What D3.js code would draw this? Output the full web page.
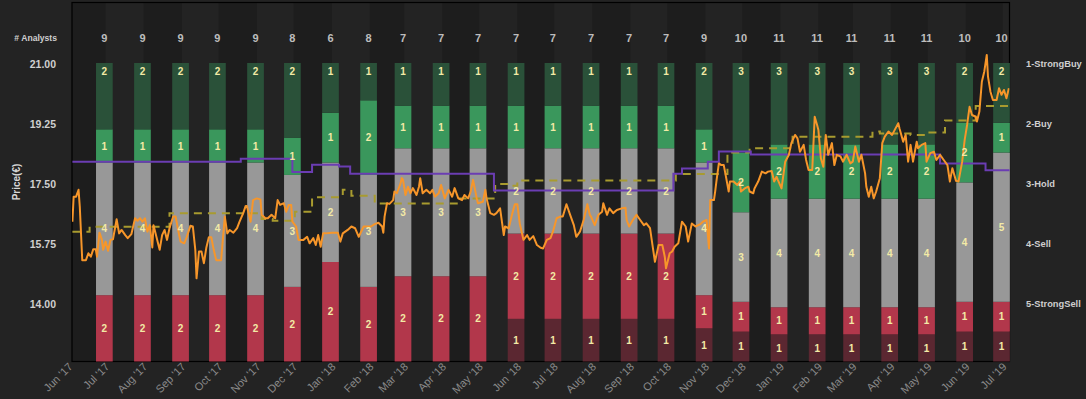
<!DOCTYPE html>
<html><head><meta charset="utf-8">
<script src="https://cdn.jsdelivr.net/npm/d3@7"></script>
<style>
html,body{margin:0;padding:0;background:#232323;}
svg{display:block;}
</style></head><body>
<svg id="chart" width="1086" height="399"></svg>
<script>
// ---------------- DATA ----------------
const barDates = ["2017-06-30","2017-07-31","2017-08-31","2017-09-30","2017-10-31","2017-11-30",
  "2017-12-31","2018-01-31","2018-02-28","2018-03-31","2018-04-30","2018-05-31","2018-06-30",
  "2018-07-31","2018-08-31","2018-09-30","2018-10-31","2018-11-30","2018-12-31","2019-01-31",
  "2019-02-28","2019-03-31","2019-04-30","2019-05-31","2019-06-30"];
const strongBuy  = [2,2,2,2,2,2, 1,1,1,1,1,1,1,1,1,1, 2,3, 3,3,3,3,3, 2,2];
const buy        = [1,1,1,1,1,1, 1,2,1,1,1,1,1,1,1,1, 1,2, 2,2,2,2,2, 2,1];
const hold       = [4,4,4,4,4,3, 2,3,3,3,3,2,2,2,2,2, 4,3, 4,4,4,4,4, 4,5];
const sell       = [2,2,2,2,2,2, 2,2,2,2,2,2,2,2,2,2, 1,1, 1,1,1,1,1, 1,1];
const strongSell = [0,0,0,0,0,0, 0,0,0,0,0,1,1,1,1,1, 1,1, 1,1,1,1,1, 1,1];

const priceTicks = [14.00, 15.75, 17.50, 19.25, 21.00];
const ratingTicks = [1, 2, 3, 4, 5];
const ratingLabels = ["1-StrongBuy","2-Buy","3-Hold","4-Sell","5-StrongSell"];

// consensus rating (step line, rating axis)
const consensusDates  = ["2017-06-04","2017-10-19","2017-11-30","2017-12-16","2018-01-07","2018-01-16",
  "2018-05-13","2018-10-06","2018-10-13","2018-11-03","2018-11-12","2018-12-08","2019-05-11","2019-06-17","2019-07-07"];
const consensusValues = [2.63,2.58,2.80,2.68,2.71,2.83,3.11,2.83,2.74,2.63,2.46,2.51,2.66,2.77,2.77];

// average target price (dashed step line, price axis)
const targetDates  = ["2017-06-04","2017-06-18","2017-08-22","2017-11-05","2017-11-14","2017-12-02","2017-12-16",
  "2018-01-10","2018-01-17","2018-02-05","2018-04-15","2018-05-14","2018-05-26","2018-06-01","2018-10-08",
  "2018-11-19","2018-12-07","2019-01-11","2019-03-17","2019-03-23","2019-04-17","2019-04-30","2019-05-15",
  "2019-06-09","2019-07-07"];
const targetValues = [16.11,16.25,16.65,16.48,16.43,16.69,17.11,17.33,17.16,16.93,17.08,17.50,17.45,17.60,17.79,
  18.42,18.54,18.88,19.03,18.97,18.93,19.00,19.35,19.77,19.77];

// share price
const price = [
["2017-06-04",16.40],["2017-06-05",17.13],["2017-06-07",17.13],["2017-06-09",17.33],["2017-06-10",16.84],
["2017-06-12",15.28],["2017-06-15",15.28],["2017-06-17",15.48],["2017-06-19",15.38],["2017-06-21",15.60],
["2017-06-23",15.60],["2017-06-24",15.38],["2017-06-26",16.08],["2017-06-28",15.87],["2017-06-29",15.58],
["2017-07-01",15.82],["2017-07-03",15.55],["2017-07-05",15.87],["2017-07-07",15.89],["2017-07-10",16.47],
["2017-07-12",16.06],["2017-07-14",16.16],["2017-07-17",16.01],["2017-07-19",15.92],["2017-07-22",16.04],
["2017-07-25",16.50],["2017-07-27",16.43],["2017-07-29",16.50],["2017-07-31",16.40],["2017-08-02",16.50],
["2017-08-04",16.11],["2017-08-06",16.30],["2017-08-08",15.65],["2017-08-09",16.30],["2017-08-12",15.87],
["2017-08-14",15.58],["2017-08-16",16.01],["2017-08-18",16.16],["2017-08-20",15.87],["2017-08-22",16.21],
["2017-08-25",16.55],["2017-08-27",16.55],["2017-08-29",16.16],["2017-08-31",15.82],["2017-09-03",15.77],
["2017-09-05",15.95],["2017-09-08",16.28],["2017-09-10",16.26],["2017-09-12",15.58],["2017-09-13",14.75],
["2017-09-15",15.53],["2017-09-17",15.53],["2017-09-19",15.19],["2017-09-21",15.65],["2017-09-23",15.95],
["2017-09-25",15.95],["2017-09-27",15.58],["2017-09-29",15.28],["2017-10-03",15.28],["2017-10-06",16.55],
["2017-10-08",16.06],["2017-10-10",16.16],["2017-10-13",16.08],["2017-10-16",16.21],["2017-10-18",16.40],
["2017-10-21",16.65],["2017-10-23",16.86],["2017-10-24",16.86],["2017-10-27",16.40],["2017-10-29",17.03],
["2017-11-01",17.08],["2017-11-04",17.05],["2017-11-05",16.60],["2017-11-08",16.50],["2017-11-10",16.50],
["2017-11-13",16.60],["2017-11-16",16.50],["2017-11-18",17.03],["2017-11-20",16.89],["2017-11-23",16.94],
["2017-11-25",16.69],["2017-11-27",16.89],["2017-11-29",16.89],["2017-11-30",16.40],["2017-12-03",16.26],
["2017-12-05",15.87],["2017-12-09",15.87],["2017-12-12",15.96],["2017-12-14",15.77],["2017-12-17",15.92],
["2017-12-19",15.72],["2017-12-21",16.01],["2017-12-23",15.67],["2017-12-25",16.06],["2017-12-27",16.06],
["2018-01-01",16.08],["2018-01-06",16.08],["2018-01-08",15.82],["2018-01-10",16.06],["2018-01-14",16.16],
["2018-01-17",16.26],["2018-01-20",16.21],["2018-01-23",15.96],["2018-01-27",16.26],["2018-01-31",16.26],
["2018-02-02",16.26],["2018-02-05",16.33],["2018-02-08",16.37],["2018-02-11",16.26],["2018-02-12",16.08],
["2018-02-13",16.55],["2018-02-15",16.94],["2018-02-17",16.92],["2018-02-20",17.03],["2018-02-21",17.28],
["2018-02-23",17.23],["2018-02-26",17.52],["2018-02-27",17.67],["2018-02-28",17.62],["2018-03-02",17.18],
["2018-03-04",17.42],["2018-03-06",17.23],["2018-03-08",17.38],["2018-03-11",17.18],["2018-03-13",17.42],
["2018-03-14",17.67],["2018-03-16",17.23],["2018-03-19",17.33],["2018-03-22",17.23],["2018-03-24",17.33],
["2018-03-26",17.13],["2018-03-29",17.23],["2018-03-31",17.47],["2018-04-03",17.08],["2018-04-06",17.33],
["2018-04-09",17.13],["2018-04-11",17.38],["2018-04-14",17.08],["2018-04-17",17.03],["2018-04-19",17.18],
["2018-04-22",17.08],["2018-04-24",17.27],["2018-04-26",17.62],["2018-04-29",17.08],["2018-04-30",16.94],
["2018-05-04",16.98],["2018-05-06",17.33],["2018-05-07",17.08],["2018-05-10",16.65],["2018-05-13",16.60],
["2018-05-15",16.65],["2018-05-18",16.79],["2018-05-21",16.01],["2018-05-22",16.26],["2018-05-25",16.21],
["2018-05-28",16.65],["2018-05-30",16.91],["2018-06-01",16.91],["2018-06-03",16.35],["2018-06-06",15.87],
["2018-06-09",16.01],["2018-06-11",15.87],["2018-06-14",15.98],["2018-06-17",15.72],["2018-06-20",15.64],
["2018-06-22",15.62],["2018-06-25",15.87],["2018-06-28",15.92],["2018-06-30",16.11],["2018-07-03",16.50],
["2018-07-06",16.55],["2018-07-08",16.55],["2018-07-11",16.91],["2018-07-14",16.60],["2018-07-17",16.30],
["2018-07-19",15.96],["2018-07-22",16.11],["2018-07-25",16.45],["2018-07-28",16.91],["2018-07-30",16.60],
["2018-07-31",16.55],["2018-08-03",16.30],["2018-08-06",16.60],["2018-08-09",16.69],["2018-08-10",16.94],
["2018-08-13",16.60],["2018-08-15",16.79],["2018-08-18",16.65],["2018-08-21",16.74],["2018-08-25",16.79],
["2018-08-28",16.81],["2018-08-29",16.45],["2018-08-31",16.26],["2018-09-03",16.45],["2018-09-06",16.60],
["2018-09-09",16.45],["2018-09-12",16.30],["2018-09-14",16.35],["2018-09-17",16.21],["2018-09-19",15.72],
["2018-09-21",15.23],["2018-09-24",15.72],["2018-09-27",15.72],["2018-09-29",15.38],["2018-09-30",15.04],
["2018-10-03",15.48],["2018-10-05",15.53],["2018-10-07",15.67],["2018-10-10",15.77],["2018-10-13",16.40],
["2018-10-16",16.26],["2018-10-18",15.82],["2018-10-21",16.35],["2018-10-24",16.26],["2018-10-28",16.33],
["2018-10-30",16.40],["2018-11-02",16.45],["2018-11-04",15.62],["2018-11-05",17.03],["2018-11-08",17.03],
["2018-11-09",17.28],["2018-11-10",17.57],["2018-11-12",18.10],["2018-11-14",18.05],["2018-11-16",18.05],
["2018-11-18",17.67],["2018-11-20",17.28],["2018-11-21",17.57],["2018-11-24",17.57],["2018-11-27",17.47],
["2018-11-29",17.57],["2018-11-30",17.28],["2018-12-03",17.37],["2018-12-06",17.42],["2018-12-07",17.28],
["2018-12-10",17.23],["2018-12-11",17.37],["2018-12-14",17.57],["2018-12-17",17.86],["2018-12-20",17.81],
["2018-12-22",17.86],["2018-12-25",17.88],["2018-12-27",17.57],["2018-12-29",17.71],["2018-12-30",17.62],
["2019-01-02",17.37],["2019-01-05",18.15],["2019-01-08",18.35],["2019-01-10",18.69],["2019-01-13",18.93],
["2019-01-15",18.83],["2019-01-17",18.44],["2019-01-20",18.64],["2019-01-22",18.20],["2019-01-24",17.91],
["2019-01-27",17.91],["2019-01-29",19.46],["2019-01-31",19.21],["2019-02-01",19.07],["2019-02-03",18.25],
["2019-02-05",18.00],["2019-02-07",18.93],["2019-02-09",18.35],["2019-02-12",18.69],["2019-02-14",18.05],
["2019-02-16",18.35],["2019-02-19",18.30],["2019-02-21",18.15],["2019-02-24",18.35],["2019-02-27",18.10],
["2019-03-01",18.15],["2019-03-03",18.59],["2019-03-06",18.15],["2019-03-08",18.35],["2019-03-11",17.81],
["2019-03-12",17.42],["2019-03-14",17.13],["2019-03-16",17.42],["2019-03-18",17.08],["2019-03-20",17.28],
["2019-03-23",17.67],["2019-03-25",18.69],["2019-03-27",18.88],["2019-03-30",19.03],["2019-04-02",18.93],
["2019-04-04",19.07],["2019-04-07",19.27],["2019-04-08",19.12],["2019-04-11",18.73],["2019-04-13",18.93],
["2019-04-15",18.15],["2019-04-17",18.64],["2019-04-19",18.15],["2019-04-22",18.73],["2019-04-23",18.54],
["2019-04-26",18.64],["2019-04-29",18.69],["2019-04-30",18.15],["2019-05-03",18.40],["2019-05-06",18.44],
["2019-05-08",18.20],["2019-05-11",18.35],["2019-05-14",18.20],["2019-05-17",18.05],["2019-05-19",17.57],
["2019-05-21",17.96],["2019-05-24",17.59],["2019-05-26",17.57],["2019-05-29",18.15],["2019-05-31",18.78],
["2019-06-02",19.22],["2019-06-04",19.75],["2019-06-06",19.51],["2019-06-09",19.46],["2019-06-10",19.32],
["2019-06-12",19.61],["2019-06-14",20.48],["2019-06-16",20.78],["2019-06-18",21.26],["2019-06-19",20.63],
["2019-06-21",20.19],["2019-06-23",19.95],["2019-06-26",19.95],["2019-06-28",20.29],["2019-06-30",20.10],
["2019-07-02",20.24],["2019-07-04",20.00],["2019-07-06",20.29]
];

// ---------------- CHART ----------------
const parse = d3.utcParse("%Y-%m-%d");
const svg = d3.select("#chart");
const FONT = "'Liberation Sans', Arial, sans-serif";
const L = 72, T = 2.5, R = 1009.5, B = 361.5;

const x = d3.scaleUtc()
  .domain([new Date(Date.UTC(2017,5,3,16)), new Date(Date.UTC(2019,6,6,12))])
  .range([L, R]);
const yPrice = d3.scaleLinear().domain([12.325, 22.79]).range([B, T]);
const yRating = d3.scaleLinear().domain([1, 5]).range([64, 304]);
const yPct = d3.scaleLinear().domain([0, 1]).range([B, 63]);

svg.append("rect").attr("width",1086).attr("height",399).attr("fill","#232323");

svg.append("defs").append("clipPath").attr("id","plotclip")
  .append("rect").attr("x",L).attr("y",T).attr("width",R-L).attr("height",B-T);

// alternating month bands
const months = d3.utcMonth.range(new Date(Date.UTC(2017,5,1)), new Date(Date.UTC(2019,7,1)));
const bandG = svg.append("g").attr("clip-path","url(#plotclip)");
bandG.append("rect").attr("x",L).attr("y",T).attr("width",R-L).attr("height",B-T).attr("fill","#1d1d1d");
bandG.selectAll("rect.band").data(months.filter((m,i)=>i%2===1)).join("rect")
  .attr("class","band")
  .attr("x", d => x(d))
  .attr("y", T)
  .attr("width", d => x(d3.utcMonth.offset(d,1)) - x(d))
  .attr("height", B - T)
  .attr("fill", "#232323");

// plot border
svg.append("rect").attr("x",L).attr("y",T).attr("width",R-L).attr("height",B-T)
  .attr("fill","none").attr("stroke","#000").attr("stroke-width",1.2);

// stacked (expanded) bars
const keys = ["strongSell","sell","hold","buy","strongBuy"];
const colors = {strongSell:"#5b2731", sell:"#b2374b", hold:"#989898", buy:"#3a975c", strongBuy:"#2a5139"};
const rows = barDates.map((d,i)=>({date:parse(d), strongSell:strongSell[i], sell:sell[i], hold:hold[i], buy:buy[i], strongBuy:strongBuy[i]}));
const series = d3.stack().keys(keys).offset(d3.stackOffsetExpand)(rows);
const bw = 16.7;
const barG = svg.append("g");
series.forEach(s => {
  barG.selectAll(null).data(s.filter(d => d.data[s.key] > 0)).join("rect")
    .attr("x", d => x(d.data.date) - bw/2)
    .attr("y", d => yPct(d[1]))
    .attr("width", bw)
    .attr("height", d => yPct(d[0]) - yPct(d[1]))
    .attr("fill", colors[s.key]);
});

// lines
const lineG = svg.append("g").attr("clip-path","url(#plotclip)");
const targetData = targetDates.map((d,i)=>[parse(d), targetValues[i]]);
lineG.append("path").datum(targetData)
  .attr("d", d3.line().x(d=>x(d[0])).y(d=>yPrice(d[1])).curve(d3.curveStepAfter))
  .attr("fill","none").attr("stroke","#a89b2f").attr("stroke-width",2).attr("stroke-dasharray","8,6");
const consData = consensusDates.map((d,i)=>[parse(d), consensusValues[i]]);
lineG.append("path").datum(consData)
  .attr("d", d3.line().x(d=>x(d[0])).y(d=>yRating(d[1])).curve(d3.curveStepAfter))
  .attr("fill","none").attr("stroke","#6b3db3").attr("stroke-width",2);
lineG.append("path").datum(price.map(p=>[parse(p[0]), p[1]]))
  .attr("d", d3.line().x(d=>x(d[0])).y(d=>yPrice(d[1])))
  .attr("fill","none").attr("stroke","#f7962a").attr("stroke-width",2).attr("stroke-linejoin","round");

// segment labels
const labG = svg.append("g").attr("font-family",FONT).attr("font-size",10).attr("font-weight","bold")
  .attr("fill","#f3eaa6").attr("text-anchor","middle");
series.forEach(s => {
  labG.selectAll(null).data(s.filter(d => d.data[s.key] > 0)).join("text")
    .attr("x", d => x(d.data.date))
    .attr("y", d => s.key === "strongBuy" ? yPct(d[1]) + 8 : (yPct(d[0]) + yPct(d[1]))/2)
    .attr("dy","0.36em")
    .text(d => d.data[s.key]);
});

// analyst counts
const cntG = svg.append("g").attr("font-family",FONT).attr("font-size",11).attr("font-weight","bold")
  .attr("fill","#bdbdbd").attr("text-anchor","middle");
cntG.selectAll("text").data(rows).join("text")
  .attr("x", d => x(d.date)).attr("y", 38).attr("dy","0.36em")
  .text(d => keys.reduce((a,k)=>a+d[k],0));
svg.append("text").attr("x",57).attr("y",38).attr("dy","0.36em").attr("text-anchor","end")
  .attr("font-family",FONT).attr("font-size",8.6).attr("font-weight","bold").attr("fill","#cfcfcf")
  .text("# Analysts");

// left price axis
const ya = svg.append("g").attr("transform",`translate(${L},0)`)
  .call(d3.axisLeft(yPrice).tickValues(priceTicks).tickFormat(d3.format(".2f")).tickSize(0).tickPadding(16));
ya.select(".domain").remove();
ya.selectAll("text").attr("font-family",FONT).attr("font-size",10.5).attr("font-weight","bold").attr("fill","#cfcfcf");

svg.append("text").attr("transform","translate(20,182) rotate(-90)").attr("text-anchor","middle")
  .attr("font-family",FONT).attr("font-size",10).attr("font-weight","bold").attr("fill","#d8d8d8").text("Price(€)");

// right rating axis
const ra = svg.append("g").attr("transform",`translate(1026,0)`)
  .call(d3.axisRight(yRating).tickValues(ratingTicks).tickFormat((d,i)=>ratingLabels[i]).tickSize(0).tickPadding(0));
ra.select(".domain").remove();
ra.selectAll("text").attr("font-family",FONT).attr("font-size",9.3).attr("font-weight","bold").attr("fill","#cfcfcf");

// bottom month axis
const xa = svg.append("g").attr("transform",`translate(0,${B})`)
  .call(d3.axisBottom(x).tickValues(months.slice(0,26)).tickFormat(d3.utcFormat("%b '%y")).tickSize(0));
xa.select(".domain").remove();
xa.selectAll("text").attr("y",0).attr("dy",0).attr("x",0)
  .attr("transform","translate(4,6) rotate(-45)").attr("text-anchor","end")
  .attr("font-family",FONT).attr("font-size",11).attr("fill","#8a8a8a");
</script>
</body></html>
